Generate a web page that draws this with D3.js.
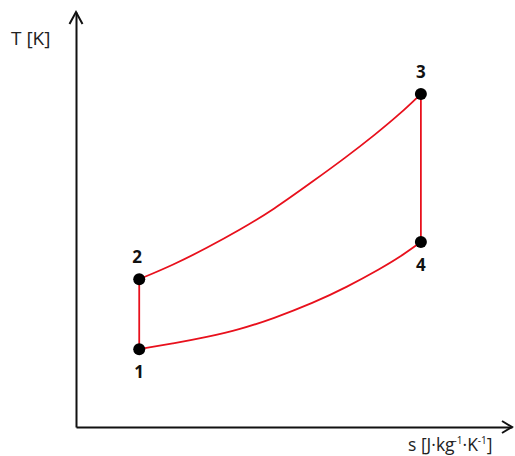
<!DOCTYPE html>
<html>
<head>
<meta charset="utf-8">
<script src="https://cdn.jsdelivr.net/npm/d3@7"></script>
<style>
  html, body { margin: 0; padding: 0; background: #fff; }
  svg { display: block; }
</style>
</head>
<body>
<svg id="chart" width="515" height="456"></svg>
<script>
// Brayton cycle on a T–s diagram
// State points 1–4
const stateLabels = ["1", "2", "3", "4"];
const stateS = [14.5, 14.5, 79.1, 79.1];
const stateT = [300, 570, 1284, 713];

// Heat addition 2 → 3 (upper isobar)
const heatS = [14.5, 22.3, 30.0, 37.6, 45.2, 54.4, 61.7, 68.8, 74.3, 79.1];
const heatT = [570, 625, 690, 760, 837, 948, 1037, 1130, 1207, 1284];

// Heat rejection 1 → 4 (lower isobar)
const coolS = [14.5, 22.3, 30.0, 37.6, 45.2, 54.4, 62.2, 69.7, 74.3, 79.1];
const coolT = [300, 322, 347, 376, 418, 478, 540, 609, 655, 713];

const axisLabelT = "T [K]";

const svg = d3.select("#chart");
const x = d3.scaleLinear().domain([0, 100]).range([76, 512]);
const y = d3.scaleLinear().domain([0, 1600]).range([427, 12]);

const red = "#e8101c";
const font = "'Open Sans', 'Noto Sans', sans-serif";

// Axes (no ticks), with open arrowheads
svg.append("g")
  .attr("transform", `translate(0,${y(0)})`)
  .call(d3.axisBottom(x).tickValues([]).tickSizeOuter(0));
svg.append("g")
  .attr("transform", `translate(${x(0)},0)`)
  .call(d3.axisLeft(y).tickValues([]).tickSizeOuter(0));
svg.selectAll(".domain").attr("stroke", "#111").attr("stroke-width", 2);

const x0 = x(0), y0 = y(0), xEnd = x(100), yEnd = y(1600);
svg.append("path")
  .attr("d", `M${xEnd - 10},${y0 - 6} L${xEnd},${y0} L${xEnd - 10},${y0 + 6}`)
  .attr("fill", "none").attr("stroke", "#111").attr("stroke-width", 2);
svg.append("path")
  .attr("d", `M${x0 - 6.5},${yEnd + 12} L${x0},${yEnd} L${x0 + 6.5},${yEnd + 12}`)
  .attr("fill", "none").attr("stroke", "#111").attr("stroke-width", 2);

// Axis titles
svg.append("text")
  .attr("x", 11).attr("y", 45)
  .attr("font-family", font).attr("font-size", 19).attr("fill", "#222")
  .text(axisLabelT);

const sLabel = svg.append("text")
  .attr("x", 408).attr("y", 451)
  .attr("font-family", font).attr("font-size", 17.5).attr("fill", "#222");
sLabel.append("tspan").text("s [J·kg");
sLabel.append("tspan").attr("dy", -7).attr("font-size", 10).attr("dx", -1).text("-1");
sLabel.append("tspan").attr("dy", 7).text("·K");
sLabel.append("tspan").attr("dy", -7).attr("font-size", 10).text("-1");
sLabel.append("tspan").attr("dy", 7).text("]");

// Cycle paths
const line = d3.line().x(d => x(d[0])).y(d => y(d[1])).curve(d3.curveBasis);
const heat = heatS.map((s, i) => [s, heatT[i]]);
const cool = coolS.map((s, i) => [s, coolT[i]]);

const g = svg.append("g").attr("fill", "none").attr("stroke", red).attr("stroke-width", 1.8);
g.append("path").attr("d", line(heat));
g.append("path").attr("d", line(cool));
// Compression 1 → 2 and expansion 3 → 4 (isentropic, vertical)
g.append("line")
  .attr("x1", x(stateS[0])).attr("y1", y(stateT[0]))
  .attr("x2", x(stateS[1])).attr("y2", y(stateT[1]));
g.append("line")
  .attr("x1", x(stateS[2])).attr("y1", y(stateT[2]))
  .attr("x2", x(stateS[3])).attr("y2", y(stateT[3]));

// State points and their numbers
const states = stateLabels.map((l, i) => ({ label: l, s: stateS[i], T: stateT[i], below: l === "1" || l === "4" }));
svg.selectAll("circle.state").data(states).join("circle")
  .attr("class", "state")
  .attr("cx", d => x(d.s)).attr("cy", d => y(d.T)).attr("r", 6)
  .attr("fill", "#000");
svg.selectAll("text.state").data(states).join("text")
  .attr("class", "state")
  .attr("x", d => x(d.s) - (d.label === "2" ? 2 : 0))
  .attr("y", d => y(d.T) + (d.below ? 29 : -16))
  .attr("text-anchor", "middle")
  .attr("font-family", font).attr("font-weight", "bold").attr("font-size", 17)
  .attr("fill", "#111")
  .text(d => d.label);
</script>
</body>
</html>
